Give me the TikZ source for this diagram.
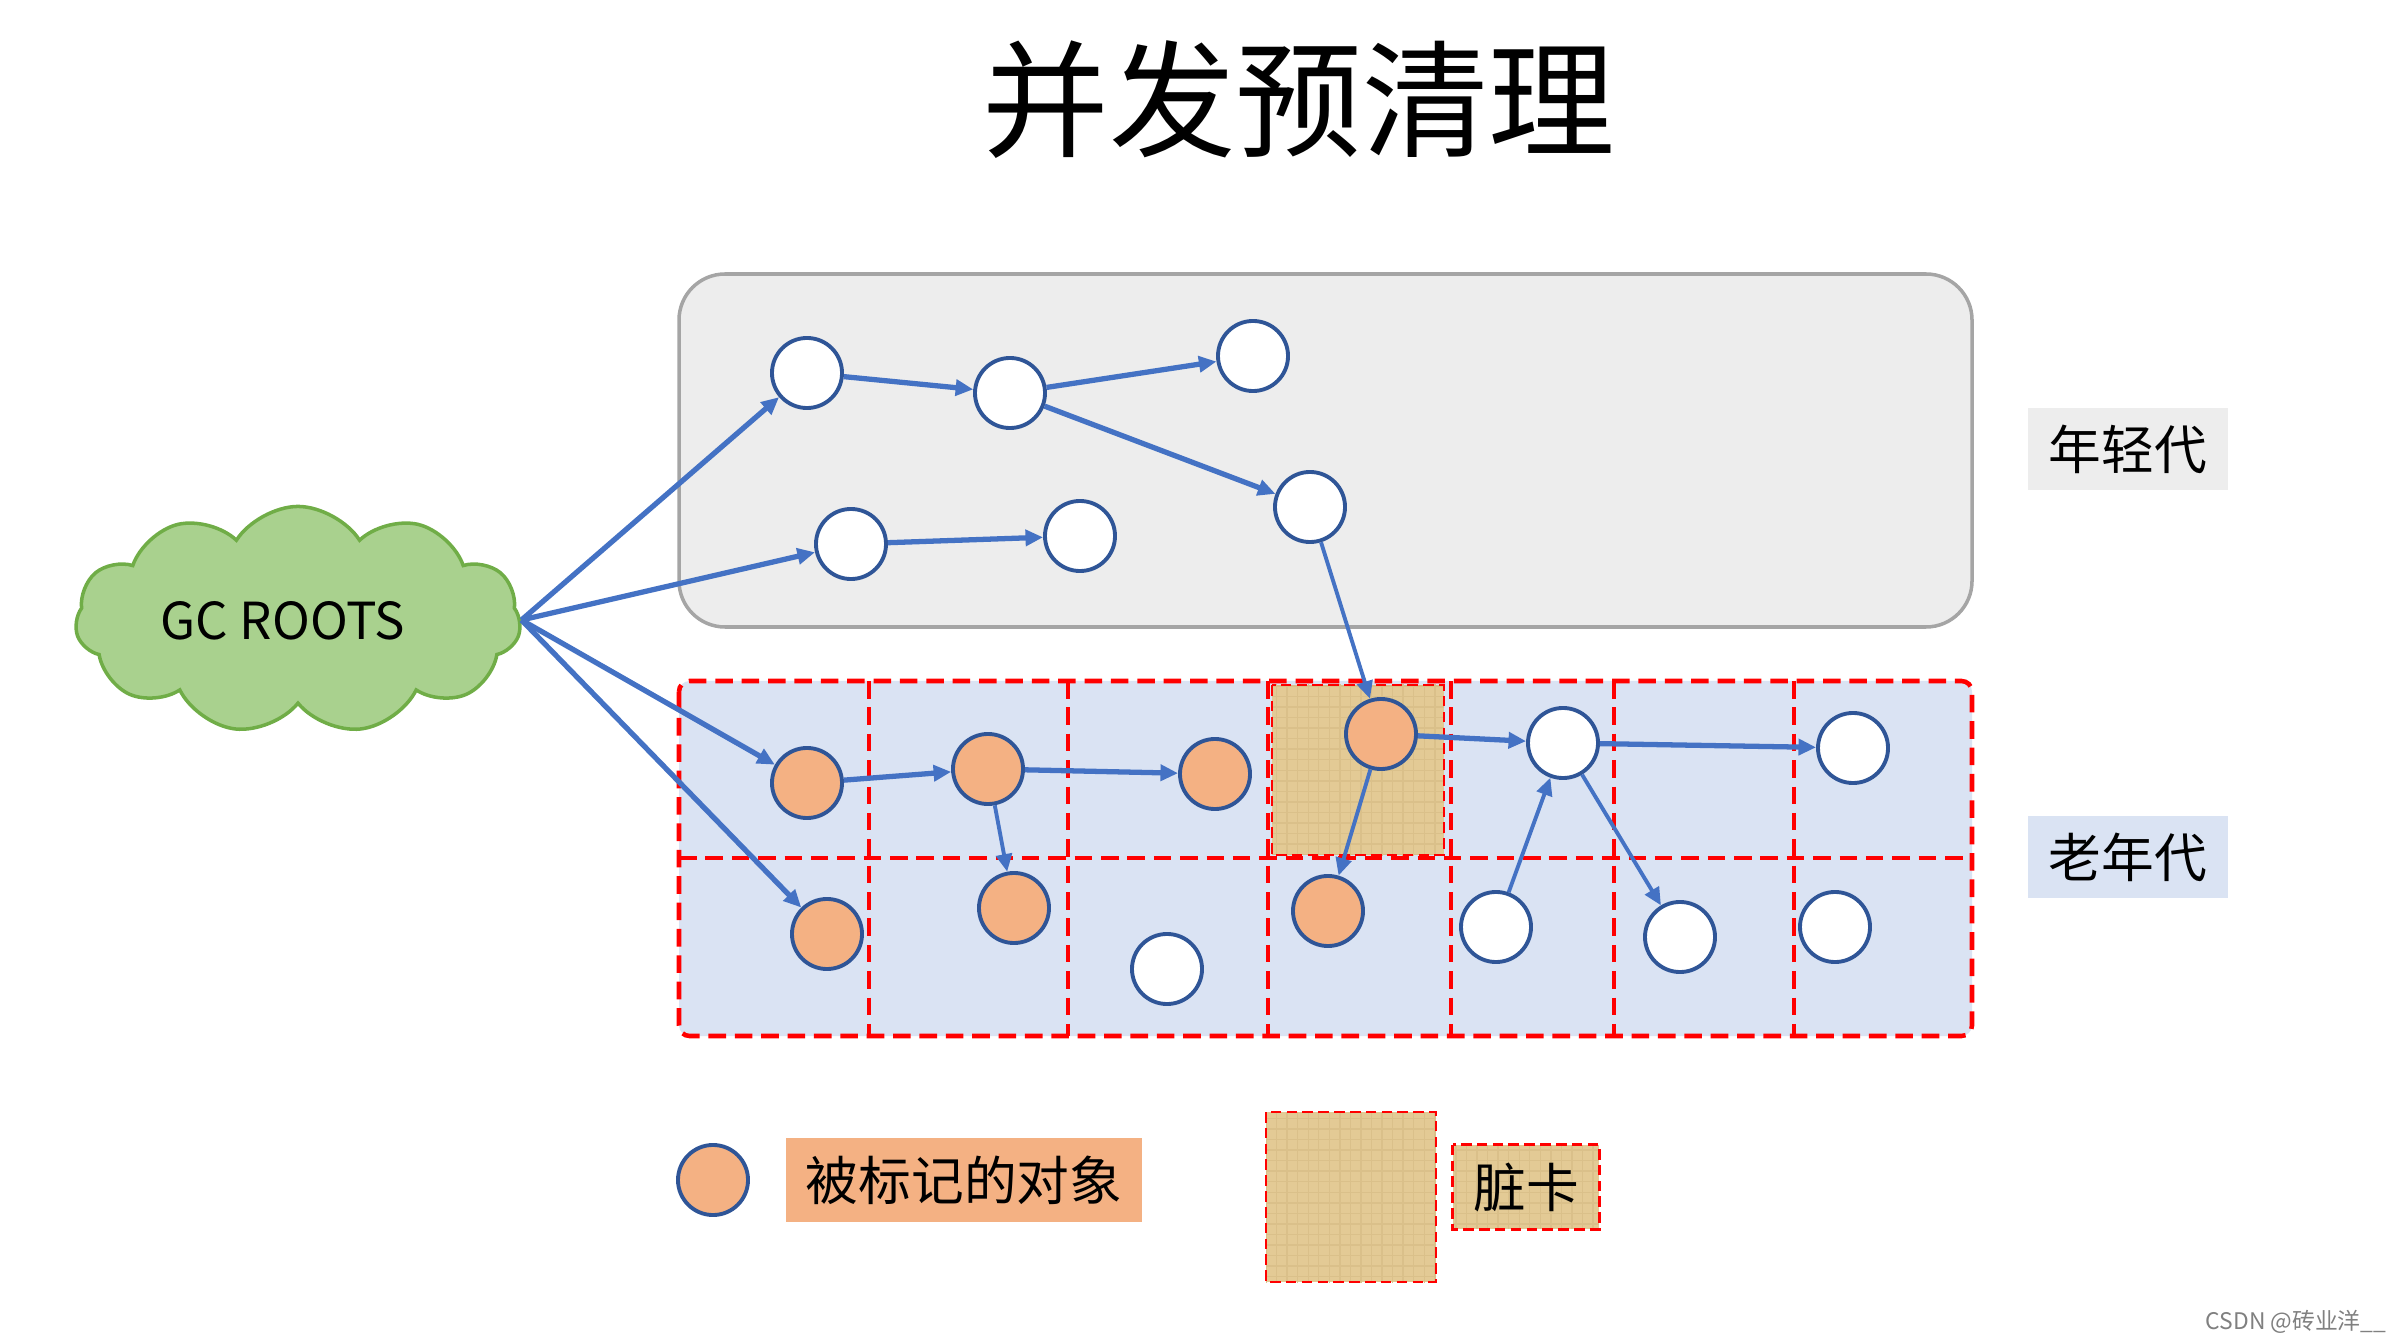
\documentclass[tikz,border=0pt]{standalone}
\usepackage{fontspec}
\newfontfamily\cjk{Noto Sans CJK SC}
\usepackage{xcolor}
\usetikzlibrary{arrows.meta,positioning,shapes.symbols,patterns}
\definecolor{younggrey}{HTML}{EDEDED}
\definecolor{youngline}{HTML}{A5A5A5}
\definecolor{oldblue}{HTML}{DAE3F3}
\definecolor{markorange}{HTML}{F4B183}
\definecolor{objline}{HTML}{2F5597}
\definecolor{refblue}{HTML}{4472C4}
\definecolor{cardred}{HTML}{FF0000}
\definecolor{cardtan}{HTML}{E3CA95}
\definecolor{cardfiber}{HTML}{DAC08A}
\definecolor{rootgreen}{HTML}{A9D18E}
\definecolor{rootline}{HTML}{70AD47}

\begin{document}
\begin{tikzpicture}[x=0.01cm,y=-0.01cm,
  every node/.style={font=\cjk},
  obj/.style={circle,draw=objline,line width=1.1pt,fill=white,minimum size=0.7cm,inner sep=0pt},
  marked/.style={obj,fill=markorange},
  ref/.style={refblue,line width=1.5pt,-{Triangle[length=5pt,width=4.5pt]}},
  thinref/.style={ref,line width=1.1pt},
  carddash/.style={cardred,line width=1.3pt,dash pattern=on 5pt off 2.5pt},
  dirtycard/.style={fill=cardtan,postaction={pattern=grid,pattern color=cardfiber}},
  labelfont/.style={font=\cjk\fontsize{15}{18}\selectfont},
  genlabel/.style={labelfont,minimum width=1.99cm,minimum height=0.82cm,inner sep=0pt}]
  \useasboundingbox (0,0) rectangle (2388,1340);

  % Title
  \node[font=\cjk\fontsize{36}{40}\selectfont] (title) at (1299,100) {并发预清理};

  % Young generation
  \draw[youngline,fill=younggrey,line width=1pt,rounded corners=0.46cm] (679,274) rectangle (1972,627);
  \node[genlabel,fill=younggrey] (younglbl) at (2128,449) {年轻代};

  % Old generation with cards
  \fill[oldblue,rounded corners=3pt] (679,681) rectangle (1972,1036);
  \path[dirtycard] (1272,685) rectangle (1444,855);
  \draw[carddash,line width=0.8pt,dash pattern=on 3pt off 1.5pt] (1272,685) rectangle (1444,855);
  \foreach \x in {869,1068,1268,1451,1614,1794}
    \draw[carddash] (\x,681) -- (\x,1036);
  \draw[carddash] (679,858) -- (1972,858);
  \draw[carddash,rounded corners=3pt] (679,681) rectangle (1972,1036);
  \node[genlabel,fill=oldblue] (oldlbl) at (2128,857) {老年代};

  % GC roots
  \node[cloud,cloud puffs=11,cloud puff arc=115,aspect=2,fill=rootgreen,draw=rootline,line width=1pt,
        minimum width=4.45cm,minimum height=2.27cm,inner sep=0pt,text depth=0pt,
        font=\cjk\fontsize{14.5}{17}\selectfont] (gc) at (298,620) {\hspace*{-0.3cm}GC ROOTS};

  % Young objects
  \node[obj] (y1) at (807,373) {};
  \node[obj] (y2) at (1010,393) {};
  \node[obj] (y3) at (1253,356) {};
  \node[obj] (y4) at (1310,507) {};
  \node[obj] (y5) at (851,544) {};
  \node[obj] (y6) at (1080,536) {};

  % Old objects
  \node[marked] (o1) at (807,783) {};
  \node[marked] (o2) at (988,769) {};
  \node[marked] (o3) at (1215,774) {};
  \node[marked] (o4) at (1381,734) {};
  \node[obj] (o5) at (1563,743) {};
  \node[obj] (o6) at (1853,748) {};
  \node[marked] (o7) at (827,934) {};
  \node[marked] (o8) at (1014,908) {};
  \node[obj] (o9) at (1167,969) {};
  \node[marked] (o10) at (1328,911) {};
  \node[obj] (o11) at (1496,927) {};
  \node[obj] (o12) at (1680,937) {};
  \node[obj] (o13) at (1835,927) {};

  % References
  \draw[ref] (gc.east) -- (y1);
  \draw[ref] (gc.east) -- (y5);
  \draw[ref] (gc.east) -- (o1);
  \draw[ref] (gc.east) -- (o7);
  \draw[ref] (y1) -- (y2);
  \draw[ref] (y2) -- (y3);
  \draw[ref] (y2) -- (y4);
  \draw[ref] (y5) -- (y6);
  \draw[thinref] (y4) -- (o4);
  \draw[ref] (o1) -- (o2);
  \draw[ref] (o2) -- (o3);
  \draw[thinref] (o2) -- (o8);
  \draw[ref] (o4) -- (o5);
  \draw[thinref] (o4) -- (o10);
  \draw[ref] (o5) -- (o6);
  \draw[thinref] (o5) -- (o12);
  \draw[thinref] (o11) -- (o5);

  % Legend
  \node[marked] (legmark) at (713,1180) {};
  \node[labelfont,fill=markorange,minimum width=3.55cm,minimum height=0.83cm,inner sep=0pt] (legmarktxt) at (964,1180) {被标记的对象};
  \path[dirtycard] (1266,1112) rectangle (1436,1282);
  \draw[carddash,line width=0.8pt,dash pattern=on 3pt off 1.5pt] (1266,1112) rectangle (1436,1282);
  \node[labelfont,dirtycard,minimum width=1.45cm,minimum height=0.83cm,inner sep=0pt] (legcard) at (1526,1187) {脏卡};
  \draw[carddash,line width=0.8pt,dash pattern=on 3pt off 1.5pt] (legcard.north west) rectangle (legcard.south east);

  % Watermark
  \node[font=\cjk\fontsize{6.5}{8}\selectfont,text=gray] (mark) at (2296,1322) {CSDN @砖业洋\_\_};
\end{tikzpicture}
\end{document}
